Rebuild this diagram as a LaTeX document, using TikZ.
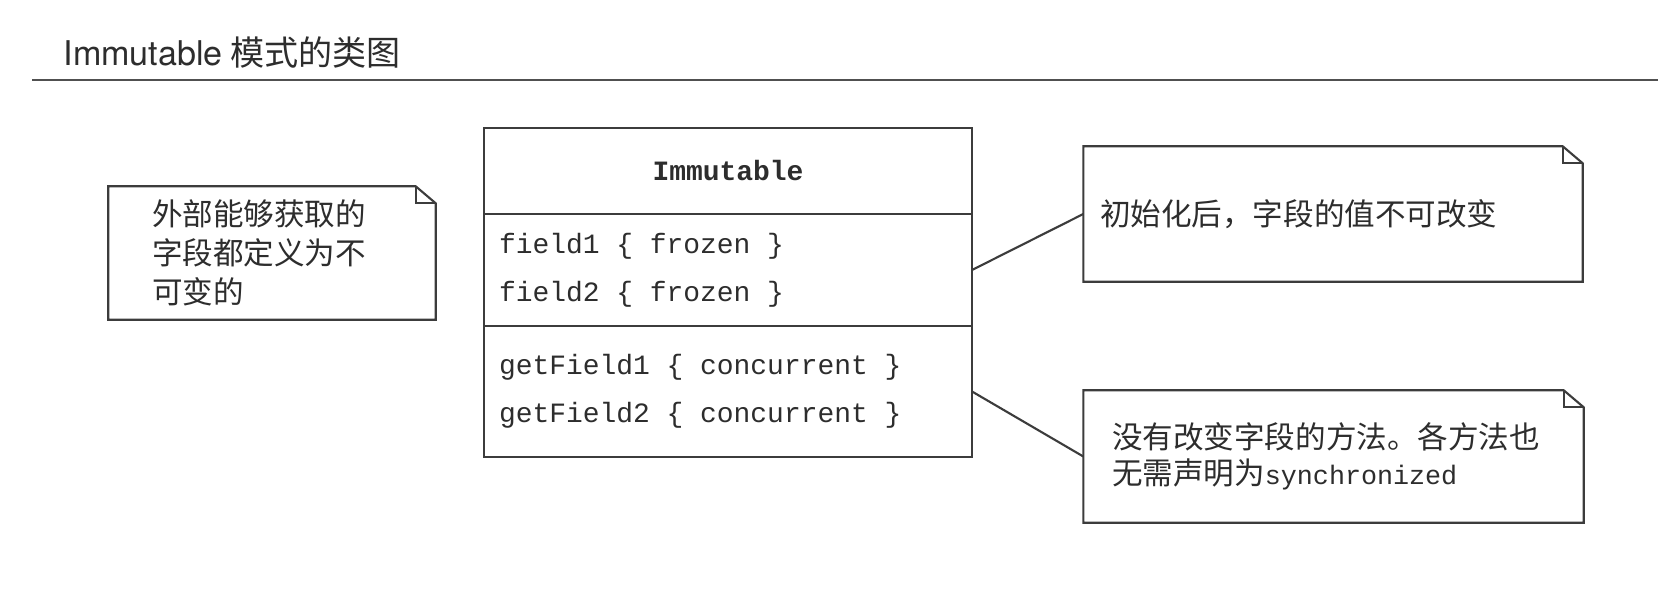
\documentclass[tikz,border=0pt]{standalone}
\usepackage{fontspec}
\setmainfont{Noto Sans CJK SC}
\setmonofont{Liberation Mono}
\newfontfamily\headfont{TeX Gyre Heros}
\usetikzlibrary{positioning}
\newcommand{\ttgap}{\hspace{0.6em}}
\definecolor{umlink}{RGB}{45,45,45}
\definecolor{umlline}{RGB}{60,60,60}
\definecolor{umlrule}{RGB}{80,80,80}
\tikzset{
  classhead/.style={
    draw=umlline,
    line width=0.6pt,
    minimum width=4.88cm,
    minimum height=0.86cm,
    inner sep=0pt,
    outer sep=0pt,
    font=\fontsize{7.95pt}{13.6pt}\selectfont\ttfamily\bfseries,
    text=umlink
  },
  classpart/.style={
    draw=umlline,
    line width=0.6pt,
    text width=4.58cm,
    inner xsep=0.15cm,
    inner ysep=0pt,
    outer sep=0pt,
    align=left,
    font=\fontsize{7.95pt}{13.6pt}\selectfont\ttfamily,
    text=umlink
  },
  notebox/.style={
    draw=none,
    align=left,
    inner ysep=0pt,
    font=\fontsize{8.7pt}{10.6pt}\selectfont,
    text=umlink
  },
  titletext/.style={font=\fontsize{9.7pt}{11pt}\selectfont, text=umlink, inner sep=0pt},
  noteline/.style={draw=umlline, line width=0.6pt, line join=miter},
  link/.style={draw=umlline, line width=0.6pt},
  rule/.style={draw=umlrule, line width=0.8pt}
}

\begin{document}
\begin{tikzpicture}[x=1cm,y=1cm]
    \fill[white] (0,0) rectangle (16.58,-6.07);
    \useasboundingbox (0,0) rectangle (16.58,-6.07);

    % heading
    \node[titletext, anchor=base west] (title) at (0.63,-0.66) {{\headfont Immutable} 模式的类图};
    \coordinate (rulel) at (0.32,-0.80);
    \coordinate (ruler) at (16.58,-0.80);
    \draw[rule] (rulel) -- (ruler);

    % class box
    \node[classhead] (cname) at (7.28,-1.71) {Immutable};
    \node[classpart, minimum height=1.12cm, below=0cm of cname] (cfields)
      {field1\ttgap\{\ttgap frozen\ttgap\}\\field2\ttgap\{\ttgap frozen\ttgap\}};
    \node[classpart, minimum height=1.31cm, below=0cm of cfields] (cmethods)
      {getField1\ttgap\{\ttgap concurrent\ttgap\}\\getField2\ttgap\{\ttgap concurrent\ttgap\}};

    % notes
    \node[notebox, text width=2.40cm, inner xsep=0.43cm, minimum height=1.32cm, font=\fontsize{8.7pt}{11pt}\selectfont] (lnote) at (2.72,-2.53) {外部能够获取的\\字段都定义为不\\可变的};
    \node[notebox, text width=4.66cm, inner xsep=0.16cm, minimum height=1.34cm] (fnote) at (13.33,-2.14) {初始化后，字段的值不可改变};
    \node[notebox, text width=4.43cm, inner xsep=0.28cm, minimum height=1.31cm, font=\fontsize{8.7pt}{10.4pt}\selectfont] (mnote) at (13.335,-4.565) {没有改变字段的方法。各方法也\\无需声明为{\fontsize{7.6pt}{10.4pt}\selectfont\ttfamily synchronized}};

    \foreach \n in {lnote,fnote,mnote}{
      \draw[noteline] (\n.north west) -- ([xshift=-0.2cm]\n.north east) -- ([yshift=-0.17cm]\n.north east) -- (\n.south east) -- (\n.south west) -- cycle;
      \draw[noteline] ([xshift=-0.2cm]\n.north east) |- ([yshift=-0.17cm]\n.north east);
    }

    \draw[link] (cfields.east) -- (fnote.west);
    \draw[link] (cmethods.east) -- (mnote.west);
  \end{tikzpicture}
\end{document}
